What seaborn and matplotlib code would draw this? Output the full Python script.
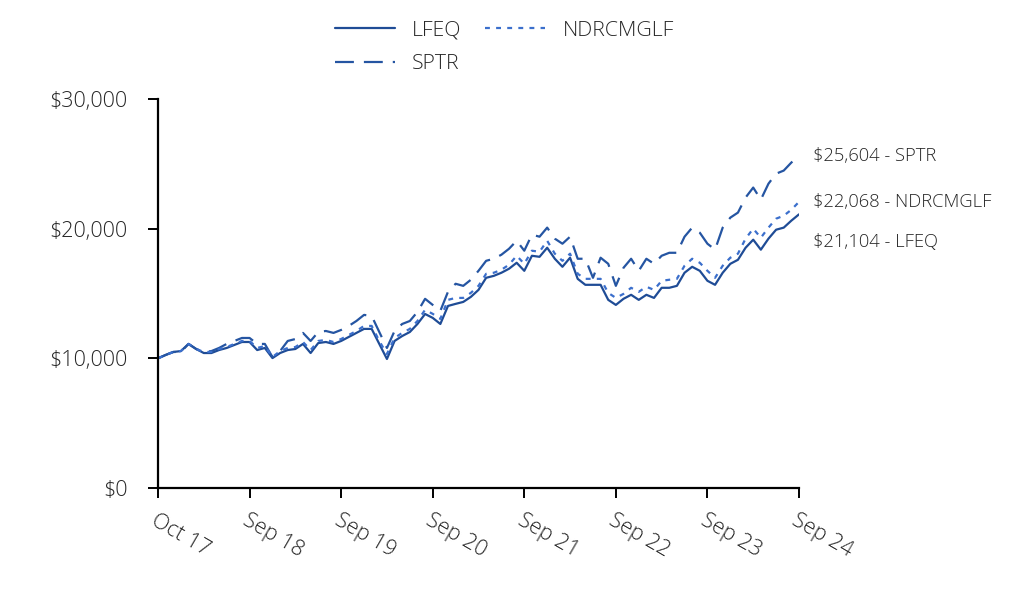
import matplotlib
matplotlib.use("Agg")
import matplotlib.pyplot as plt
import seaborn as sns
import numpy as np
import pandas as pd

tick_labels = ["Oct 17", "Sep 18", "Sep 19", "Sep 20", "Sep 21", "Sep 22", "Sep 23", "Sep 24"]

lfeq = [10000, 10260, 10490, 10560, 11110, 10720, 10410, 10410, 10640, 10800, 11030, 11260, 11260,
        10640, 10800, 10020, 10410, 10640, 10720, 11110, 10410, 11180, 11260, 11110, 11340,
        11650, 11960, 12270, 12270, 11110, 9950, 11340, 11720, 12030, 12650, 13420, 13120,
        12650, 14040, 14200, 14350, 14740, 15280, 16210, 16360, 16600, 16910, 17370, 16750,
        17910, 17830, 18530, 17680, 17060, 17760, 16130, 15670, 15670, 15670, 14510, 14120,
        14590, 14900, 14510, 14900, 14660, 15440, 15440, 15590, 16600, 17060, 16750, 15980,
        15670, 16600, 17290, 17600, 18530, 19150, 18380, 19230, 19920, 20080, 20620, 21104]

sptr = [10000, 10260, 10490, 10490, 11110, 10720, 10490, 10560, 10800, 11110, 11340, 11570, 11570,
        11110, 11110, 10100, 10560, 11340, 11490, 11960, 11340, 12030, 12110, 11960, 12190,
        12500, 12880, 13350, 13270, 12030, 10800, 12110, 12650, 12880, 13580, 14590, 14120,
        13660, 15130, 15750, 15590, 16060, 16750, 17520, 17680, 17990, 18450, 19070, 18300,
        19540, 19380, 20080, 19230, 18840, 19380, 17680, 17680, 16210, 17760, 17290, 15590,
        16980, 17680, 16750, 17680, 17290, 17910, 18140, 18140, 19380, 20080, 19690, 18840,
        18380, 20080, 20850, 21240, 22400, 23170, 22240, 23470, 24240, 24480, 25100, 25604]

ndrcmglf = [10000, 10260, 10490, 10560, 11110, 10720, 10490, 10490, 10720, 10870, 11110, 11340, 11340,
            10800, 10950, 10100, 10560, 10800, 10870, 11260, 10640, 11340, 11420, 11260, 11490,
            11800, 12110, 12500, 12500, 11340, 10330, 11570, 11960, 12270, 12880, 13740, 13430,
            13040, 14510, 14660, 14660, 15050, 15590, 16520, 16600, 16830, 17220, 17910, 17290,
            18300, 18220, 19070, 18070, 17520, 18070, 16520, 16130, 16130, 16130, 15050, 14660,
            14970, 15440, 15130, 15520, 15280, 15980, 16060, 16130, 17140, 17680, 17370, 16750,
            16210, 17140, 17760, 18070, 19230, 20000, 19300, 20080, 20770, 21000, 21460, 22068]

series_names = ["LFEQ", "SPTR", "NDRCMGLF"]
series_values = [lfeq, sptr, ndrcmglf]

n = len(lfeq)
frames = []
for name, vals in zip(series_names, series_values):
    frames.append(pd.DataFrame({"month": np.arange(len(vals)), "value": vals, "series": name}))
df = pd.concat(frames, ignore_index=True)

sns.set_theme(style="white")
plt.rcParams["font.family"] = ["Open Sans", "DejaVu Sans"]
plt.rcParams["font.weight"] = "light"

fig = plt.figure(figsize=(10.32, 6.12), dpi=100)
ax = fig.add_axes([158 / 1032, 1 - 488 / 612, (799 - 158) / 1032, (488 - 99) / 612])

palette = {"LFEQ": "#1f4c96", "SPTR": "#2555a2", "NDRCMGLF": "#3b6fcc"}
dashes = {"LFEQ": "", "SPTR": (8.5, 4.5), "NDRCMGLF": (2.2, 2.8)}
sns.lineplot(data=df, x="month", y="value", hue="series", style="series",
             palette=palette, dashes=dashes, linewidth=1.6, ax=ax, legend=True)

ax.set_xlim(0, n - 1)
ax.set_ylim(0, 30000)
ax.set_xticks(np.arange(0, n, 12))
ax.set_xticklabels(tick_labels, rotation=-30, ha="left", va="top", rotation_mode="anchor",
                   fontweight="light")
ax.set_yticks([0, 10000, 20000, 30000])
ax.set_yticklabels(["$0", "$10,000", "$20,000", "$30,000"], fontweight="light")
ax.set_xlabel("")
ax.set_ylabel("")

text_color = "#262626"
ax.tick_params(axis="both", which="major", direction="out", length=7, width=1.4, color="black",
               labelsize=15.5, labelcolor=text_color)
ax.tick_params(axis="x", pad=9)
ax.tick_params(axis="y", pad=15)
ax.tick_params(axis="both", bottom=True, left=True)
for side in ["top", "right"]:
    ax.spines[side].set_visible(False)
for side in ["left", "bottom"]:
    ax.spines[side].set_color("black")
    ax.spines[side].set_linewidth(1.6)

# end-of-line labels
end_offsets = {"SPTR": 0, "NDRCMGLF": 0, "LFEQ": -20}
for name, vals in zip(series_names, series_values):
    ax.annotate(f"${vals[-1]:,} - {name}", xy=(n - 1, vals[-1]), xycoords="data",
                xytext=(10, end_offsets[name]), textcoords="offset points",
                fontsize=13.2, fontweight="light", color=text_color, va="center", ha="left",
                annotation_clip=False)

handles, labels = ax.get_legend_handles_labels()
hmap = dict(zip(labels, handles))
leg_handles = [hmap[k] for k in series_names]
leg = ax.legend(leg_handles, series_names, loc="lower center", bbox_to_anchor=(0.54, 1.015),
                ncol=2, frameon=False, fontsize=15.3, handlelength=2.85, columnspacing=1.1,
                handletextpad=0.8, labelspacing=0.62, labelcolor=text_color)
for t in leg.get_texts():
    t.set_fontweight("light")

fig.savefig("out.png", dpi=100)
